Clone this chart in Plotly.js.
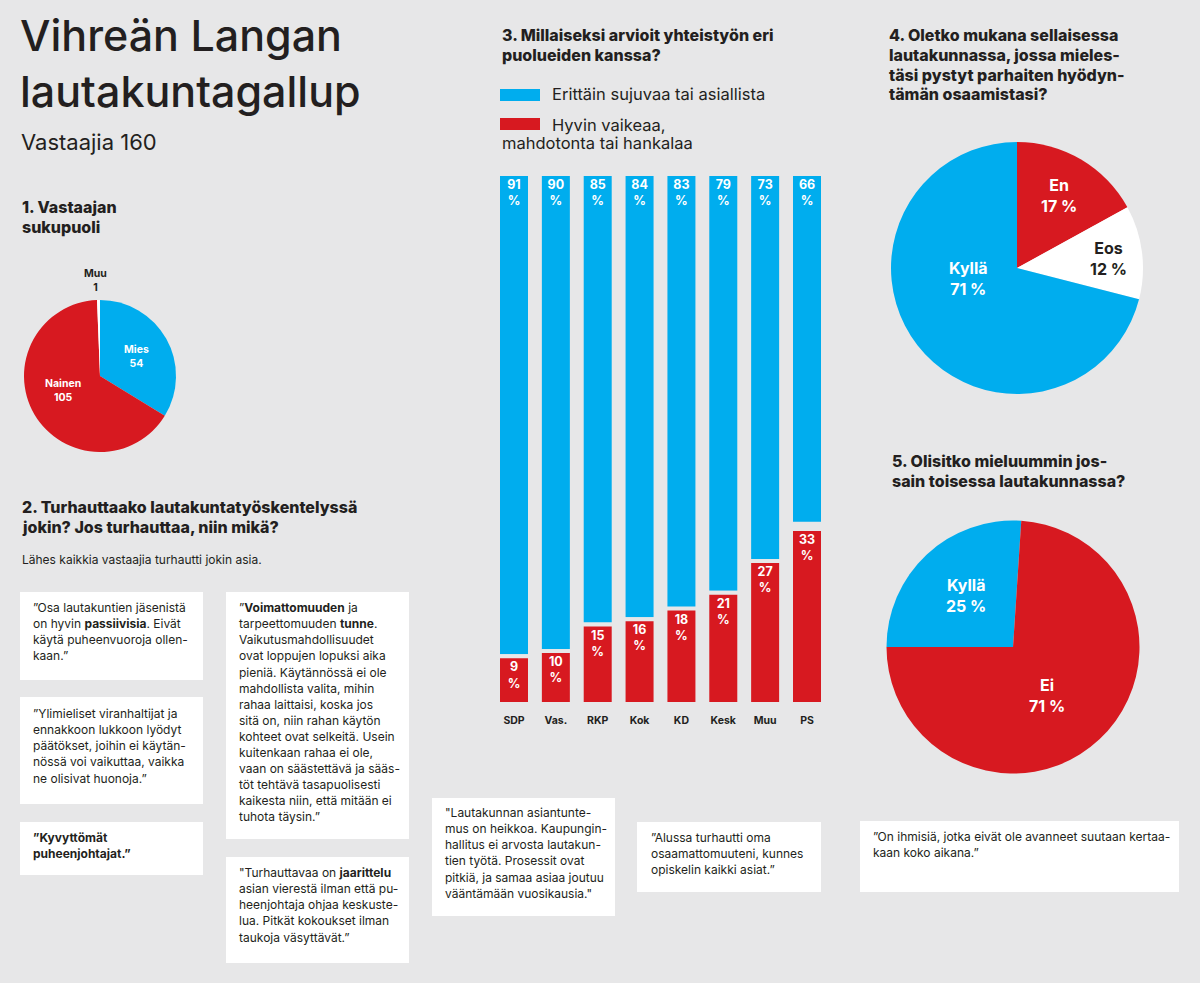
<!DOCTYPE html>
<html>
<head>
<meta charset="utf-8">
<script src="https://cdn.plot.ly/plotly-3.0.1.min.js"></script>
<style>
  html, body { margin: 0; padding: 0; background: #e7e7e8; }
  #chart { width: 1200px; height: 983px; }
</style>
</head>
<body>
<div id="chart"></div>
<script>
// ---------------- DATA ----------------
const categories = ['SDP', 'Vas.', 'RKP', 'Kok', 'KD', 'Kesk', 'Muu', 'PS'];
const smoothValues = [91, 90, 85, 84, 83, 79, 73, 66];
const hardValues = [9, 10, 15, 16, 18, 21, 27, 33];
const seriesNames = ['Erittäin sujuvaa tai asiallista', 'Hyvin vaikeaa,', 'mahdotonta tai hankalaa'];

const genderLabels = ['Mies', 'Nainen', 'Muu'];
const genderValues = [54, 105, 1];

const q4Labels = ['En', 'Eos', 'Kyllä'];
const q4Values = [17, 12, 71];

const q5Labels = ['Kyllä', 'Ei'];
const q5Values = [25, 71];

const titleLines = ['Vihreän Langan', 'lautakuntagallup'];
const subtitle = 'Vastaajia 160';
const h1Lines = ['1. Vastaajan', 'sukupuoli'];
const h2Lines = ['2. Turhauttaako lautakuntatyöskentelyssä', 'jokin? Jos turhauttaa, niin mikä?'];
const introText = 'Lähes kaikkia vastaajia turhautti jokin asia.';
const h3Lines = ['3. Millaiseksi arvioit yhteistyön eri', 'puolueiden kanssa?'];
const h4Lines = ['4. Oletko mukana sellaisessa', 'lautakunnassa, jossa mieles-', 'täsi pystyt parhaiten hyödyn-', 'tämän osaamistasi?'];
const h5Lines = ['5. Olisitko mieluummin jos-', 'sain toisessa lautakunnassa?'];

const quoteA = ['”Osa lautakuntien jäsenistä', 'on hyvin <b>passiivisia</b>. Eivät', 'käytä puheenvuoroja ollen-', 'kaan.”'];
const quoteB = ['”Ylimieliset viranhaltijat ja', 'ennakkoon lukkoon lyödyt', 'päätökset, joihin ei käytän-', 'nössä voi vaikuttaa, vaikka', 'ne olisivat huonoja.”'];
const quoteC = ['<b>”Kyvyttömät</b>', '<b>puheenjohtajat.”</b>'];
const quoteD = ['”<b>Voimattomuuden</b> ja', 'tarpeettomuuden <b>tunne</b>.', 'Vaikutusmahdollisuudet', 'ovat loppujen lopuksi aika', 'pieniä. Käytännössä ei ole', 'mahdollista valita, mihin', 'rahaa laittaisi, koska jos', 'sitä on, niin rahan käytön', 'kohteet ovat selkeitä. Usein', 'kuitenkaan rahaa ei ole,', 'vaan on säästettävä ja sääs-', 'töt tehtävä tasapuolisesti', 'kaikesta niin, että mitään ei', 'tuhota täysin.”'];
const quoteE = ['"Turhauttavaa on <b>jaarittelu</b>', 'asian vierestä ilman että pu-', 'heenjohtaja ohjaa keskuste-', 'lua. Pitkät kokoukset ilman', 'taukoja väsyttävät.”'];
const quoteF = ['"Lautakunnan asiantunte-', 'mus on heikkoa. Kaupungin-', 'hallitus ei arvosta lautakun-', 'tien työtä. Prosessit ovat', 'pitkiä, ja samaa asiaa joutuu', 'vääntämään vuosikausia."'];
const quoteG = ['”Alussa turhautti oma', 'osaamattomuuteni, kunnes', 'opiskelin kaikki asiat.”'];
const quoteH = ['”On ihmisiä, jotka eivät ole avanneet suutaan kertaa-', 'kaan koko aikana.”'];

// ---------------- STYLE ----------------
const W = 1200, H = 983;
const BG = '#e7e7e8';
const BLUE = '#00adee';
const RED = '#d71920';
const INK = '#231f20';
const FONT = 'Inter, Lato, "Open Sans", sans-serif';
const px = x => x / W;
const py = y => 1 - y / H;

const annotations = [];
const shapes = [];

function line(text, x, baseline, size, opts) {
  opts = opts || {};
  annotations.push({
    xref: 'paper', yref: 'paper',
    x: px(x), y: py(baseline - 0.36 * size),
    xanchor: opts.xanchor || 'left', yanchor: 'middle',
    text: text, showarrow: false, align: opts.xanchor === 'center' ? 'center' : 'left',
    font: { family: FONT, size: size, color: opts.color || INK, weight: opts.weight || 400 }
  });
}
function lines(arr, x, baseline0, spacing, size, opts) {
  arr.forEach((t, i) => line(t, x, baseline0 + i * spacing, size, opts));
}
// multi-line text in one annotation (centre point given)
function label(text, x, yc, size, color, weight, anchor) {
  annotations.push({
    xref: 'paper', yref: 'paper', x: px(x), y: py(yc), xanchor: anchor || 'center', yanchor: 'middle',
    text: text, showarrow: false, align: anchor === 'left' ? 'left' : 'center',
    font: { family: FONT, size: size, color: color, weight: weight || 700 }
  });
}
function box(x0, y0, x1, y1) {
  shapes.push({ type: 'rect', xref: 'paper', yref: 'paper', x0: px(x0), x1: px(x1), y0: py(y1), y1: py(y0),
    fillcolor: '#ffffff', line: { width: 0 }, layer: 'below' });
}

// Title (one block, two lines)
const TS = 43;
const tb1 = 51, tb2 = tb1 + 1.3 * TS;
label(titleLines.join('<br>'), 18, (tb1 + tb2) / 2 - 0.3635 * TS, TS, INK, 500, 'left');
line(subtitle, 19, 150, 22, { weight: 400 });

const HS = 16;
lines(h1Lines, 20, 213, 19.5, HS, { weight: 800 });
lines(h2Lines, 20, 513, 19.5, HS, { weight: 800 });
line(introText, 20, 564, 12);
lines(h3Lines, 500, 41, 19.5, HS, { weight: 800 });
lines(h4Lines, 887, 41, 19.7, HS, { weight: 800 });
lines(h5Lines, 890, 467, 19.5, HS, { weight: 800 });

// Legend for bar chart
shapes.push({ type: 'rect', xref: 'paper', yref: 'paper', x0: px(500), x1: px(540), y0: py(101), y1: py(89), fillcolor: BLUE, line: { width: 0 } });
shapes.push({ type: 'rect', xref: 'paper', yref: 'paper', x0: px(500), x1: px(540), y0: py(130), y1: py(118), fillcolor: RED, line: { width: 0 } });
line(seriesNames[0], 550, 100, 16.5);
line(seriesNames[1], 550, 131, 16.5);
line(seriesNames[2], 500, 149, 16.5);

// Quote boxes
const QS = 12, QL = 16.1;
box(20, 592, 203, 680);  lines(quoteA, 31, 612, QL, QS);
box(20, 697, 203, 804);  lines(quoteB, 31, 718, QL, QS);
box(20, 822, 203, 875);  lines(quoteC, 31, 842, QL, QS);
box(226, 592, 409, 839); lines(quoteD, 237, 612, QL, QS);
box(226, 857, 409, 963); lines(quoteE, 237, 877, QL, QS);
box(432, 798, 615, 916); lines(quoteF, 443, 817, QL, QS);
box(637, 822, 821, 892); lines(quoteG, 649, 842, QL, QS);
box(860, 821, 1179, 892); lines(quoteH, 871, 841, QL, QS);

// Pie labels (text built from the data arrays); positions are label centres
const pie1Pos = [[136, 356], [63, 390], [95, 280]];
const pie1Col = ['#ffffff', '#ffffff', INK];
genderLabels.forEach((l, i) => label(l + '<br>' + genderValues[i], pie1Pos[i][0], pie1Pos[i][1], 10.5, pie1Col[i]));
const pie4Pos = [[1059, 195], [1108, 258], [968, 278]];
const pie4Col = ['#ffffff', INK, '#ffffff'];
q4Labels.forEach((l, i) => label(l + '<br>' + q4Values[i] + ' %', pie4Pos[i][0], pie4Pos[i][1], 16, pie4Col[i]));
const pie5Pos = [[966, 595], [1047, 695]];
q5Labels.forEach((l, i) => label(l + '<br>' + q5Values[i] + ' %', pie5Pos[i][0], pie5Pos[i][1], 16, '#ffffff'));

// ---------------- TRACES ----------------
const barText = { family: FONT, size: 12.5, color: '#ffffff', weight: 700 };
const traces = [
  {
    type: 'bar', name: seriesNames[0], x: categories, y: smoothValues,
    base: smoothValues.map(v => 100 - v),
    marker: { color: BLUE, line: { color: BG, width: 4 } },
    text: smoothValues.map(v => v + '<br>%'), textposition: 'inside', insidetextanchor: 'end',
    textangle: 0, constraintext: 'none', textfont: barText, hoverinfo: 'x+y', showlegend: false
  },
  {
    type: 'bar', name: seriesNames[1] + ' ' + seriesNames[2], x: categories, y: hardValues,
    marker: { color: RED, line: { color: BG, width: 4 } },
    text: hardValues.map(v => v + '<br>%'), textposition: 'inside', insidetextanchor: 'end',
    textangle: 0, constraintext: 'none', textfont: barText, hoverinfo: 'x+y', showlegend: false
  },
  {
    type: 'pie', labels: genderLabels, values: genderValues, sort: false, direction: 'clockwise', rotation: 0,
    domain: { x: [px(24), px(176)], y: [py(452), py(300)] },
    marker: { colors: [BLUE, RED, '#ffffff'], line: { width: 0 } },
    textinfo: 'none', showlegend: false
  },
  {
    type: 'pie', labels: q4Labels, values: q4Values, sort: false, direction: 'clockwise', rotation: 0,
    domain: { x: [px(891), px(1143)], y: [py(394), py(142)] },
    marker: { colors: [RED, '#ffffff', BLUE], line: { width: 0 } },
    textinfo: 'none', showlegend: false
  },
  {
    type: 'pie', labels: q5Labels, values: q5Values, sort: false, direction: 'clockwise', rotation: -90,
    domain: { x: [px(886.5), px(1139.5)], y: [py(773.5), py(520.5)] },
    marker: { colors: [BLUE, RED], line: { width: 0 } },
    textinfo: 'none', showlegend: false
  }
];

const layout = {
  width: W, height: H,
  margin: { l: 0, r: 0, t: 0, b: 0 },
  paper_bgcolor: BG, plot_bgcolor: 'rgba(0,0,0,0)',
  barmode: 'overlay', bargap: 0.2355,
  showlegend: false,
  xaxis: {
    domain: [px(493.07), px(827.93)], showgrid: false, zeroline: false, showline: false, ticks: '',
    ticklabelstandoff: 8,
    tickfont: { family: FONT, size: 10.5, color: INK, weight: 700 }, fixedrange: true, anchor: 'y'
  },
  yaxis: {
    domain: [py(704), py(174)], range: [0, 100], visible: false, fixedrange: true
  },
  annotations: annotations,
  shapes: shapes
};

Plotly.newPlot('chart', traces, layout, { displayModeBar: false, staticPlot: true });
</script>
</body>
</html>
